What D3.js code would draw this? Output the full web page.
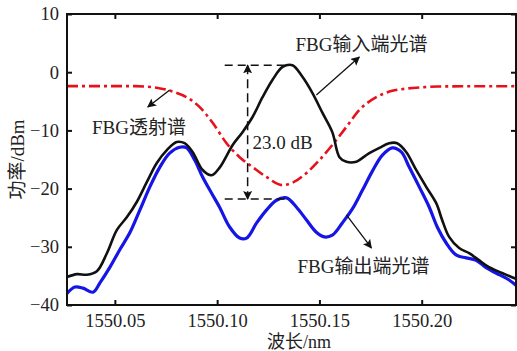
<!DOCTYPE html>
<html>
<head>
<meta charset="utf-8">
<script src="https://cdn.jsdelivr.net/npm/d3@7"></script>
<style>
  body { margin: 0; background: #fff; }
  svg text { font-family: "Liberation Serif", "Noto Sans CJK SC", serif; fill: #222; }
</style>
</head>
<body>
<svg id="chart" width="517" height="351"></svg>
<script>
// Wavelength (nm) / power (dBm) samples
const inputWl = [1550.0266, 1550.0315, 1550.0363, 1550.0412, 1550.0461, 1550.0510, 1550.0559, 1550.0607,
    1550.0656, 1550.0705, 1550.0754, 1550.0802, 1550.0841, 1550.0880, 1550.0929, 1550.0973, 1550.1012,
    1550.1076, 1550.1124, 1550.1173, 1550.1222, 1550.1271, 1550.1320, 1550.1368, 1550.1417, 1550.1466,
    1550.1515, 1550.1563, 1550.1598, 1550.1632, 1550.1680, 1550.1695, 1550.1744, 1550.1793, 1550.1841,
    1550.1880, 1550.1924, 1550.1973, 1550.2022, 1550.2071, 1550.2100, 1550.2134, 1550.2183, 1550.2232,
    1550.2280, 1550.2329, 1550.2393, 1550.2461];
const inputDbm = [-35.2, -34.7, -34.8, -34.2, -31.1, -27.1, -24.9, -22.3,
    -18.9, -15.6, -13.4, -12.0, -12.2, -13.7, -16.8, -17.7, -16.4,
    -12.5, -10.3, -7.7, -4.3, -1.3, 0.9, 1.2, -0.8, -3.6,
    -7.0, -10.3, -14.6, -15.4, -15.4, -15.1, -13.9, -13.0, -12.2,
    -12.2, -13.7, -16.8, -19.7, -22.5, -25.4, -28.3, -30.2, -31.1,
    -32.3, -33.5, -34.5, -35.5];

const outputWl = [1550.0266, 1550.0305, 1550.0344, 1550.0393, 1550.0427, 1550.0476, 1550.0524, 1550.0573,
    1550.0622, 1550.0671, 1550.0720, 1550.0768, 1550.0817, 1550.0851, 1550.0890, 1550.0929, 1550.0973,
    1550.1012, 1550.1061, 1550.1110, 1550.1144, 1550.1193, 1550.1241, 1550.1290, 1550.1339, 1550.1388,
    1550.1437, 1550.1485, 1550.1524, 1550.1563, 1550.1612, 1550.1661, 1550.1710, 1550.1759, 1550.1807,
    1550.1856, 1550.1900, 1550.1939, 1550.1988, 1550.2037, 1550.2076, 1550.2119, 1550.2168, 1550.2217,
    1550.2266, 1550.2315, 1550.2363, 1550.2427, 1550.2461];
const outputDbm = [-38.0, -36.9, -37.1, -37.8, -36.2, -33.5, -30.5, -27.6,
    -23.7, -19.7, -16.3, -13.9, -12.9, -13.0, -15.1, -18.0, -20.8,
    -23.2, -26.6, -28.5, -28.5, -25.9, -23.7, -22.0, -21.6, -23.2,
    -25.4, -27.5, -28.3, -28.0, -25.9, -23.5, -20.3, -17.0, -14.3,
    -13.0, -13.7, -16.3, -19.7, -23.2, -26.6, -29.3, -31.4, -31.9,
    -32.3, -33.6, -34.5, -35.7, -36.6];

const transWl = [1550.0266, 1550.0600, 1550.0660, 1550.0710, 1550.0750, 1550.0790, 1550.0851, 1550.0915,
    1550.0978, 1550.1046, 1550.1110, 1550.1173, 1550.1241, 1550.1320, 1550.1368, 1550.1437, 1550.1500,
    1550.1563, 1550.1632, 1550.1695, 1550.1778, 1550.1856, 1550.1930, 1550.2000, 1550.2080, 1550.2461];
const transDbm = [-2.4, -2.4, -2.5, -2.7, -3.0, -3.4, -4.3, -6.0,
    -8.7, -12.2, -14.6, -16.3, -18.0, -19.4, -19.0, -17.3, -15.1,
    -12.5, -9.4, -6.5, -4.3, -3.2, -2.8, -2.6, -2.45, -2.4];

const xTicks = [1550.05, 1550.10, 1550.15, 1550.20];
const yTicks = [10, 0, -10, -20, -30, -40];

const svg = d3.select('#chart');
const margin = { left: 67, right: 1, top: 14, bottom: 46 };
const width = 517 - margin.left - margin.right;
const height = 351 - margin.top - margin.bottom;

const x = d3.scaleLinear().domain([1550.0266, 1550.2461]).range([0, width]);
const y = d3.scaleLinear().domain([-40, 10]).range([height, 0]);

const g = svg.append('g').attr('transform', `translate(${margin.left},${margin.top})`);

svg.append('defs').append('marker')
    .attr('id', 'head')
    .attr('viewBox', '0 0 10 10')
    .attr('refX', 9).attr('refY', 5)
    .attr('markerWidth', 9).attr('markerHeight', 9)
    .attr('markerUnits', 'userSpaceOnUse')
    .attr('orient', 'auto-start-reverse')
    .append('path')
    .attr('d', 'M0,0L10,5L0,10L2,5Z')
    .attr('fill', '#111');

const fmtMinus = d => d < 0 ? '\u2212' + Math.abs(d) : String(d);

// axes: labelled bottom/left, bare ticks on top/right
g.append('g').attr('transform', `translate(0,${height})`)
    .call(d3.axisBottom(x).tickValues(xTicks).tickSize(-5).tickPadding(9).tickFormat(d3.format('.2f')));
g.append('g')
    .call(d3.axisLeft(y).tickValues(yTicks).tickSize(-5).tickPadding(8).tickFormat(fmtMinus));
g.append('g').call(d3.axisTop(x).tickValues(xTicks).tickSize(-5).tickFormat(''));
g.append('g').attr('transform', `translate(${width},0)`)
    .call(d3.axisRight(y).tickValues(yTicks).tickSize(-5).tickFormat(''));

g.selectAll('.domain').remove();
g.selectAll('.tick line').attr('stroke', '#111').attr('stroke-width', 2);
g.selectAll('.tick text').attr('font-size', 18.5).attr('fill', '#222')
    .attr('font-family', '"Liberation Serif", serif');

const smooth = d3.line()
    .x(d => x(d[0]))
    .y(d => y(d[1]))
    .curve(d3.curveCatmullRom.alpha(0.5));

const monotone = d3.line()
    .x(d => x(d[0]))
    .y(d => y(d[1]))
    .curve(d3.curveMonotoneX);

g.append('path')
    .datum(d3.zip(transWl, transDbm))
    .attr('d', monotone)
    .attr('fill', 'none')
    .attr('stroke', '#e8101a')
    .attr('stroke-width', 2.6)
    .attr('stroke-dasharray', '11,4,3,4');

g.append('path')
    .datum(d3.zip(outputWl, outputDbm))
    .attr('d', smooth)
    .attr('fill', 'none')
    .attr('stroke', '#1515e6')
    .attr('stroke-width', 3.2);

g.append('path')
    .datum(d3.zip(inputWl, inputDbm))
    .attr('d', smooth)
    .attr('fill', 'none')
    .attr('stroke', '#111')
    .attr('stroke-width', 2.6);

// 23.0 dB annotation
const topLevel = 1.2, bottomLevel = -21.8;
g.append('line')
    .attr('x1', x(1550.1037)).attr('x2', x(1550.1368))
    .attr('y1', y(topLevel)).attr('y2', y(topLevel))
    .attr('stroke', '#111').attr('stroke-width', 1.5).attr('stroke-dasharray', '8,5');
g.append('line')
    .attr('x1', x(1550.1037)).attr('x2', x(1550.1339))
    .attr('y1', y(bottomLevel)).attr('y2', y(bottomLevel))
    .attr('stroke', '#111').attr('stroke-width', 1.5).attr('stroke-dasharray', '8,5');
g.append('line')
    .attr('x1', x(1550.1149)).attr('x2', x(1550.1149))
    .attr('y1', y(topLevel)).attr('y2', y(bottomLevel))
    .attr('stroke', '#111').attr('stroke-width', 1.5).attr('stroke-dasharray', '9,5')
    .attr('marker-start', 'url(#head)').attr('marker-end', 'url(#head)');
g.append('text')
    .attr('x', x(1550.1173)).attr('y', y(-12.0))
    .attr('dy', '0.35em')
    .attr('font-size', 19)
    .text('23.0 dB');

// curve labels with arrows
const labels = [
    { text: 'FBG输入端光谱', at: [1550.1383, 4.85], from: [1550.1485, -3.9], to: [1550.1695, 2.6] },
    { text: 'FBG透射谱', at: [1550.0388, -9.4], from: [1550.0768, -3.06], to: [1550.0661, -5.98] },
    { text: 'FBG输出端光谱', at: [1550.1393, -33.3], from: [1550.1632, -24.5], to: [1550.1754, -30.2] }
];

labels.forEach(l => {
    g.append('line')
        .attr('x1', x(l.from[0])).attr('y1', y(l.from[1]))
        .attr('x2', x(l.to[0])).attr('y2', y(l.to[1]))
        .attr('stroke', '#111').attr('stroke-width', 1.3)
        .attr('marker-end', 'url(#head)');
    g.append('text')
        .attr('x', x(l.at[0])).attr('y', y(l.at[1]))
        .attr('dy', '0.35em')
        .attr('font-size', 19)
        .text(l.text);
});

// frame
g.append('rect')
    .attr('width', width).attr('height', height)
    .attr('fill', 'none').attr('stroke', '#111').attr('stroke-width', 2);

// axis titles
svg.append('text')
    .attr('x', margin.left + x(1550.1400)).attr('y', 347.5)
    .attr('text-anchor', 'middle')
    .attr('font-size', 18)
    .text('波长/nm');
svg.append('text')
    .attr('transform', `translate(24,${margin.top + y(-15)}) rotate(-90)`)
    .attr('text-anchor', 'middle')
    .attr('font-size', 19)
    .text('功率/dBm');
</script>
</body>
</html>
